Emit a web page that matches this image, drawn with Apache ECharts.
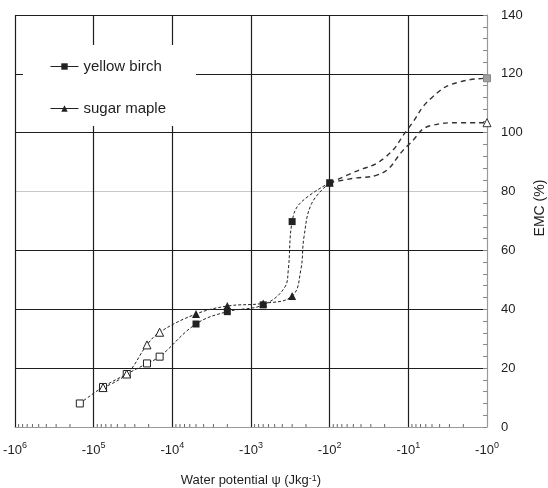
<!DOCTYPE html>
<html><head><meta charset="utf-8">
<script src="https://cdn.jsdelivr.net/npm/echarts@6/dist/echarts.min.js"></script>
<style>html,body{margin:0;padding:0;background:#fff}#c{width:548px;height:488px}</style>
</head><body><div id="c"></div>
<script>
// Water potential (J/kg) and EMC (%).
// Entries flagged "none" carry no symbol: they are points.
const birchPotential = [-150000, -76000, -38000, -21000, -14500, -5000, -2000, -700, -370, -336, -300, -238, -100];
const birchEMC       = [8.0, 13.6, 18.0, 21.6, 23.9, 35.0, 39.2, 41.5, 47.6, 53.3, 69.8, 76.0, 83.0];
const birchMark      = ['open', 'open', 'open', 'open', 'open', 'fill', 'fill', 'fill', 'none', 'none', 'fill', 'none', 'fill'];

const maplePotential = [-76000, -38000, -21000, -14500, -5000, -2000, -700, -300, -233, -212, -169, -100];
const mapleEMC       = [13.4, 18.0, 27.9, 32.2, 38.4, 41.1, 42.0, 44.5, 53.3, 64.6, 76.0, 83.0];
const mapleMark      = ['open', 'open', 'open', 'open', 'fill', 'fill', 'fill', 'fill', 'none', 'none', 'none', 'fill'];

// dashed extrapolations
const birchExtPotential = [-100, -50, -20, -10, -5, -2.2, -1];
const birchExtEMC       = [83.0, 86.5, 91.5, 101.5, 112.0, 117.3, 118.5];
const mapleExtPotential = [-100, -50, -25, -10, -5, -2.2, -1];
const mapleExtEMC       = [83.0, 84.5, 85.6, 95.8, 102.5, 103.4, 103.4];

const xTickExponents = [0, 1, 2, 3, 4, 5, 6];
const yTicks = [0, 20, 40, 60, 80, 100, 120, 140];

const FONT = 'Liberation Sans, Arial, sans-serif';
const INK = '#1e1e1e';
const openStyle = { color: '#fff', borderColor: '#222', borderWidth: 1 };

function pts(pot, emc, mark) {
  return pot.map((p, i) => {
    const d = { value: [Math.abs(p), emc[i]] };
    if (mark[i] === 'open') d.itemStyle = openStyle;
    if (mark[i] === 'none') d.symbol = 'none';
    return d;
  });
}
function extPts(pot, emc, endStyle, endSymbol) {
  return pot.map((p, i) => {
    const d = { value: [Math.abs(p), emc[i]], symbol: 'none' };
    if (i === pot.length - 1) { d.symbol = endSymbol; d.itemStyle = endStyle; }
    return d;
  });
}

// minor log ticks along the bottom axis (2..9 x 10^n)
const minorTicks = [];
for (let e = 0; e < 6; e++) for (let k = 2; k <= 9; k++) minorTicks.push([k * Math.pow(10, e), 0]);

const chart = echarts.init(document.getElementById('c'), null, { renderer: 'canvas' });
chart.setOption({
  animation: false,
  backgroundColor: '#fff',
  textStyle: { fontFamily: FONT },
  grid: { left: 15, right: 61, top: 15, bottom: 61, containLabel: false, outerBoundsMode: 'none' },
  legend: {
    data: ['yellow birch', 'sugar maple'],
    orient: 'vertical',
    left: 23, top: 45,
    padding: [14, 30, 10, 27],
    itemGap: 27,
    itemWidth: 28, itemHeight: 8,
    backgroundColor: '#fff',
    lineStyle: { type: 'solid', width: 1, color: '#222' },
    textStyle: { fontFamily: FONT, fontSize: 15, color: INK }
  },
  xAxis: {
    type: 'log', logBase: 10, min: 1, max: 1000000, inverse: true,
    name: 'Water potential ψ (Jkg{s|-1})',
    nameLocation: 'middle', nameGap: 47,
    nameTextStyle: {
      fontFamily: FONT, fontSize: 13, color: INK,
      rich: { s: { fontSize: 9, verticalAlign: 'top', lineHeight: 10, fontFamily: FONT, color: INK } }
    },
    axisLine: { show: true, lineStyle: { color: '#999', width: 1 } },
    axisTick: { show: false },
    minorTick: { show: false },
    splitLine: { show: true, lineStyle: { color: ['#999', INK, INK, INK, INK, INK, INK], width: 1.2 } },
    axisLabel: {
      margin: 14,
      formatter: v => {
        const e = Math.round(Math.log10(v));
        return xTickExponents.includes(e) ? '{b|-10}{s|' + e + '}' : '';
      },
      rich: {
        b: { fontSize: 13, color: INK, fontFamily: FONT, lineHeight: 16, verticalAlign: 'bottom' },
        s: { fontSize: 9, color: INK, fontFamily: FONT, lineHeight: 10, verticalAlign: 'top' }
      }
    }
  },
  yAxis: {
    type: 'value', position: 'right', min: 0, max: 140, interval: 20,
    name: 'EMC (%)', nameLocation: 'middle', nameGap: 46, nameRotate: 90,
    nameTextStyle: { fontFamily: FONT, fontSize: 14, color: INK, padding: [0, 0, 0, 26] },
    axisLine: { show: true, lineStyle: { color: '#999', width: 1 } },
    axisTick: { show: true, inside: true, length: 4, lineStyle: { color: '#888' } },
    minorTick: { show: true, splitNumber: 5, length: 4, lineStyle: { color: '#888' } },
    splitLine: { show: true, lineStyle: { color: ['#999', INK, INK, INK, '#c8c8c8', INK, INK, INK], width: 1.2 } },
    axisLabel: {
      margin: 14, fontSize: 13, color: INK, fontFamily: FONT,
      formatter: v => (yTicks.includes(v) ? String(v) : '')
    }
  },
  series: [
    {
      name: 'minorTicks', type: 'custom', coordinateSystem: 'cartesian2d', silent: true, z: 1,
      data: minorTicks,
      renderItem: (params, api) => {
        const p = api.coord([api.value(0), 0]);
        return { type: 'line', shape: { x1: p[0], y1: p[1], x2: p[0], y2: p[1] - 3 },
                 style: { stroke: '#666', lineWidth: 1 } };
      }
    },
    {
      name: 'yellow birch', type: 'line', smooth: 0.4, z: 3,
      symbol: 'rect', symbolSize: 7,
      itemStyle: { color: '#222' },
      lineStyle: { color: '#222', width: 1, type: [3, 2] },
      data: pts(birchPotential, birchEMC, birchMark)
    },
    {
      name: 'sugar maple', type: 'line', smooth: 0.4, z: 3,
      symbol: 'triangle', symbolSize: 8,
      itemStyle: { color: '#222' },
      lineStyle: { color: '#222', width: 1, type: [3, 2] },
      data: pts(maplePotential, mapleEMC, mapleMark)
    },
    {
      name: 'birchExt', type: 'line', smooth: 0.5, z: 2,
      lineStyle: { color: '#333', width: 1.4, type: [5, 4] },
      data: extPts(birchExtPotential, birchExtEMC, { color: '#a0a0a0', borderColor: '#888', borderWidth: 1 }, 'rect'),
      symbolSize: 7
    },
    {
      name: 'mapleExt', type: 'line', smooth: 0.5, z: 2,
      lineStyle: { color: '#333', width: 1.4, type: [5, 4] },
      data: extPts(mapleExtPotential, mapleExtEMC, { color: '#fff', borderColor: '#333', borderWidth: 1 }, 'triangle'),
      symbolSize: 8
    }
  ]
});
</script>
</body></html>
